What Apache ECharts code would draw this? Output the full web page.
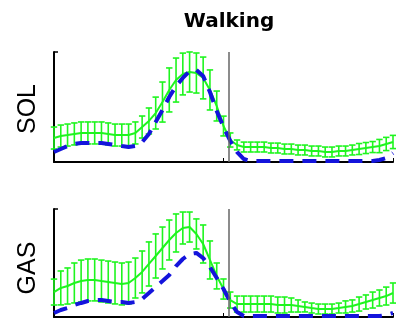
<!DOCTYPE html>
<html><head><meta charset="utf-8">
<script src="https://cdn.jsdelivr.net/npm/echarts@6/dist/echarts.min.js"></script>
<style>html,body{margin:0;padding:0;background:#fff}#c{width:396px;height:323px}</style>
</head><body><div id="c"></div>
<script>
const gaitPct = [0,2,4,6,8,10,12,14,16,18,20,22,24,26,28,30,32,34,36,38,40,42,44,46,48,50,52,54,56,58,60,62,64,66,68,70,72,74,76,78,80,82,84,86,88,90,92,94,96,98,100];
const solMean = [21.8,23.6,24.5,25.5,26.4,26.4,26.4,26.4,25.5,24.5,24.5,24.5,26.4,31.8,37.3,44.5,54.5,65.5,74.5,80,81.8,80.9,76.4,65.5,50.9,32.7,20,15.5,13.6,13.6,13.6,13.6,12.7,12.7,11.8,11.8,10.9,10.9,10,10,9.1,9.1,10,10,10.9,11.8,12.7,13.6,14.5,16.4,18.2];
const solErr = [10,10,10,10,10,10,10,10,10,10,10,10,10,10,11.8,14.5,18.2,20,20,19,18.2,18.2,19,18.2,13.6,9,6.4,4.5,4.5,4.5,4.5,4.5,4.5,4.5,4.5,4.5,4.5,4.5,4.5,4.5,4.5,4.5,4.5,4.5,4.5,5,5,5,6,6,6];
const solEmg = [9.1,11.8,14.5,16.4,17.3,17.3,17.3,17.3,16.4,15.5,14.5,13.6,14.5,18.2,25.5,36.4,47.3,59.1,69.1,76.4,82.7,83.6,78.2,63.6,46.4,31.8,19.1,9.1,2.7,0.9,0.9,0.9,0.9,0.9,0.9,0.9,0.9,0.9,0.9,0.9,0.9,0.9,0.9,0.9,0.9,0.9,0.9,0.9,1.8,3.6,8.2];
const gasMean = [23.1,26.9,28.7,31.5,33.3,34.3,34.3,33.3,32.4,31.5,30.6,31.5,36.1,41.7,49.1,56.5,63.9,71.3,77.8,82.4,83.3,76.9,67.6,52.8,38,25.9,15.7,12,12,12,12,12,12,11.1,11.1,11.1,10.2,9.3,8.3,7.4,7.4,7.4,8.3,9.3,10.2,12,13.9,15.7,17.6,19.4,22.2];
const gasErr = [12,15.7,16.7,18.5,19.4,19.4,19.4,19.4,19.4,19.4,19.4,19.4,18.5,19.4,20.4,20.4,19.4,18.5,17.6,14.8,13.9,13.9,17.6,17.6,12,9.3,7.4,7.4,7.4,7.4,7.4,7.4,7.4,7.4,7.4,6.5,5.6,4.6,4.6,4.6,4.6,4.6,4.6,5.6,5.6,6.5,6.5,7.4,7.4,8.3,9.3];
const gasEmg = [3.7,6.5,8.3,11.1,13,14.8,15.7,15.7,14.8,13.9,13.9,13,13.9,16.7,22.2,27.8,33.3,38.9,47.2,53.7,58.3,59.3,54.6,46.3,36.1,25.9,13.9,4.6,0.9,0.9,0.9,0.9,0.9,0.9,0.9,0.9,0.9,0.9,0.9,0.9,0.9,0.9,0.9,0.9,0.9,0.9,0.9,0.9,0.9,1.9,3.7];
const stanceEnd = 51.6;
const panelLabels = ['SOL', 'GAS'];
const titleText = 'Walking';

const GREEN = '#1ef51e';
const BLUE = '#1414dc';

function pairs(xs, ys){ return xs.map((x,i)=>[x, ys[i]]); }
function errData(xs, m, e){ return xs.map((x,i)=>[x, m[i]-e[i], m[i]+e[i]]); }

function renderErr(params, api){
  const x = api.value(0);
  const lo = api.coord([x, api.value(1)]);
  const hi = api.coord([x, api.value(2)]);
  const w = 3.2;
  const style = {stroke: GREEN, lineWidth: 1.6, fill: null};
  return {type:'group', children:[
    {type:'line', shape:{x1:lo[0],y1:lo[1],x2:hi[0],y2:hi[1]}, style:style},
    {type:'line', shape:{x1:lo[0]-w,y1:lo[1],x2:lo[0]+w,y2:lo[1]}, style:style},
    {type:'line', shape:{x1:hi[0]-w,y1:hi[1],x2:hi[0]+w,y2:hi[1]}, style:style}
  ]};
}

const axisX = idx => ({gridIndex: idx, type:'value', min:0, max:100, interval:50,
  axisLine:{show:true, lineStyle:{color:'#000', width:2}},
  axisTick:{show:true, inside:true, length:4, lineStyle:{color:'#000', width:1}},
  axisLabel:{show:false}, splitLine:{show:false}});
const axisY = idx => ({gridIndex: idx, type:'value', min:0, max:100, interval:100,
  axisLine:{show:true, lineStyle:{color:'#000', width:2}},
  axisTick:{show:true, inside:true, length:4, lineStyle:{color:'#000', width:1.5}},
  axisLabel:{show:false}, splitLine:{show:false}});

function panelSeries(idx, mean, err, emg){
  return [
    {type:'custom', xAxisIndex:idx, yAxisIndex:idx, renderItem:renderErr,
     encode:{x:0, y:[1,2]}, data: errData(gaitPct, mean, err), z:2, silent:true, clip:false},
    {type:'line', xAxisIndex:idx, yAxisIndex:idx, data: pairs(gaitPct, mean),
     showSymbol:false, symbol:'none', lineStyle:{color:GREEN, width:2}, z:3,
     markLine:{silent:true, symbol:'none', label:{show:false},
       lineStyle:{color:'#666', width:1.5, type:'solid'}, data:[{xAxis: stanceEnd}]}},
    {type:'line', xAxisIndex:idx, yAxisIndex:idx, data: pairs(gaitPct, emg),
     showSymbol:false, symbol:'none', lineStyle:{color:BLUE, width:4, type:[14,9], cap:'butt'}, z:4}
  ];
}

const chart = echarts.init(document.getElementById('c'), null, {renderer:'canvas'});
chart.setOption({
  animation:false,
  backgroundColor:'#fff',
  grid:[{left:54, top:52, width:339, height:110}, {left:54, top:209, width:339, height:108}],
  xAxis:[axisX(0), axisX(1)],
  yAxis:[axisY(0), axisY(1)],
  series:[].concat(panelSeries(0, solMean, solErr, solEmg), panelSeries(1, gasMean, gasErr, gasEmg)),
  graphic:[
    {type:'text', x:229, y:22, style:{text:titleText, font:'bold 20px "DejaVu Sans"', fill:'#000', textAlign:'center', textVerticalAlign:'middle'}},
    {type:'text', x:28, y:109, rotation:Math.PI/2, style:{text:panelLabels[0], font:'25px "Liberation Sans"', fill:'#000', textAlign:'center', textVerticalAlign:'middle'}},
    {type:'text', x:28, y:268, rotation:Math.PI/2, style:{text:panelLabels[1], font:'25px "Liberation Sans"', fill:'#000', textAlign:'center', textVerticalAlign:'middle'}}
  ]
});
</script></body></html>
